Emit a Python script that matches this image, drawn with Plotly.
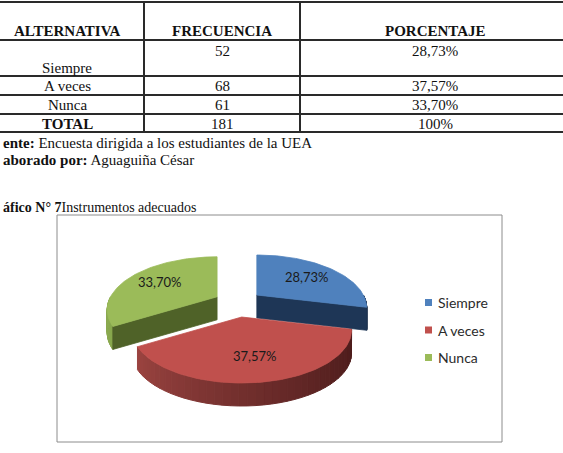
import numpy as np
import plotly.graph_objects as go

# ---------------- data ----------------
headers = ["ALTERNATIVA", "FRECUENCIA", "PORCENTAJE"]
categories = ["Siempre", "A veces", "Nunca"]
frequencies = [52, 68, 61]
percent_labels = ["28,73%", "37,57%", "33,70%"]
total_label = "TOTAL"
total_freq = 181
total_pct = "100%"
source_text = ("ente:", "Encuesta dirigida a los estudiantes de la UEA")
author_text = ("aborado por:", "Aguaguiña César")
chart_title = ("áfico N° 7", "Instrumentos adecuados")

# ---------------- styles ----------------
W, H = 563, 453
SERIF = "Liberation Serif"
SANS = "Lato"
top_colors = ["#4F81BD", "#C0504D", "#9BBB59"]
side_colors = ["#1E3656", "#8A3634", "#4F6228"]
wall_light = ["#2A4870", "#A64946", "#8CAB51"]
wall_dark = ["#1A2E4A", "#4C1C1B", "#6F8A3E"]

fig = go.Figure()

# ---------------- pie geometry (3D projected) ----------------
cx, cy = 238.0, 303.5      # pie centre on the page
RX, RY = 106.5, 49.8        # projected radii
PERSP = 0.245               # perspective factor
DEPTH = 23                  # thickness
EX, EY = 24, 13.7           # explosion distance

vals = np.array(frequencies, dtype=float)
fr = vals / vals.sum()
starts = np.concatenate([[0], np.cumsum(fr)[:-1]]) * 2 * np.pi
ends = np.cumsum(fr) * 2 * np.pi


def proj(r, th, ox, oy, down=0.0):
    d = 1 + PERSP * r * np.cos(th)
    x = cx + ox + RX * r * np.sin(th) / d
    y = cy + oy - RY * r * np.cos(th) / d + down
    return x, y


def poly(xs, ys, color, lw=0.8):
    fig.add_trace(go.Scatter(x=list(xs) + [xs[0]], y=list(ys) + [ys[0]],
                             mode="lines", fill="toself", fillcolor=color,
                             line=dict(color=color, width=lw),
                             hoverinfo="skip", showlegend=False))


def hex2rgb(h):
    h = h.lstrip("#")
    return np.array([int(h[i:i + 2], 16) for i in (0, 2, 4)], dtype=float)


def lerp(c1, c2, t):
    a, b = hex2rgb(c1), hex2rgb(c2)
    c = a + (b - a) * t
    return "rgb(%d,%d,%d)" % tuple(np.clip(c, 0, 255).round())


slices = []
for i in range(len(vals)):
    a0, a1 = starts[i], ends[i]
    mid = (a0 + a1) / 2
    ox, oy = EX * np.sin(mid), -EY * np.cos(mid)
    apex_y = cy + oy
    slices.append((apex_y, i, a0, a1, mid, ox, oy))

# back to front
for apex_y, i, a0, a1, mid, ox, oy in sorted(slices):
    # outer wall (front half only)
    w0, w1 = max(a0, np.pi / 2), min(a1, 3 * np.pi / 2)
    if w1 > w0:
        n = 40
        edges = np.linspace(w0, w1, n + 1)
        for k in range(n):
            th = np.linspace(edges[k], edges[k + 1], 4)
            xt, yt = proj(1, th, ox, oy)
            xb, yb = proj(1, th[::-1], ox, oy, DEPTH)
            t = (np.sin((edges[k] + edges[k + 1]) / 2) + 1) / 2
            col = lerp(wall_light[i], wall_dark[i], t ** 0.8)
            poly(np.concatenate([xt, xb]), np.concatenate([yt, yb]), col, 1.0)
    # radial faces facing the viewer
    for ang, normal in ((a0, a0 - np.pi / 2), (a1, a1 + np.pi / 2)):
        if np.cos(normal) < -1e-6:
            x0, y0 = proj(0, ang, ox, oy)
            x1, y1 = proj(1, ang, ox, oy)
            x2, y2 = proj(1, ang, ox, oy, DEPTH)
            x3, y3 = proj(0, ang, ox, oy, DEPTH)
            poly([x0, x1, x2, x3], [y0, y1, y2, y3], side_colors[i])
    # top face
    th = np.linspace(a0, a1, 80)
    xa, ya = proj(1, th, ox, oy)
    xc, yc = proj(0, 0, ox, oy)
    poly(np.concatenate([[xc], xa]), np.concatenate([[yc], ya]), top_colors[i])

annotations = []
# data labels
for apex_y, i, a0, a1, mid, ox, oy in slices:
    lx, ly = proj(0.66, mid, ox, oy)
    annotations.append(dict(x=lx, y=ly, text=percent_labels[i], showarrow=False,
                            font=dict(family=SANS, size=13, color="#1a1a1a"),
                            xanchor="center", yanchor="middle"))

# legend
leg_x, leg_y0, leg_dy = 425, 302.5, 27.5
shapes = []
for i, name in enumerate(categories):
    yy = leg_y0 + i * leg_dy
    shapes.append(dict(type="rect", xref="x", yref="y", x0=leg_x, x1=leg_x + 7,
                       y0=yy - 3.5, y1=yy + 3.5, fillcolor=top_colors[i],
                       line=dict(width=0)))
    annotations.append(dict(x=leg_x + 11, y=yy, text=name, showarrow=False,
                            font=dict(family=SANS, size=14, color="#2b2b2b"),
                            xanchor="left", yanchor="middle"))

# chart frame
shapes.append(dict(type="rect", xref="x", yref="y", x0=57, x1=502, y0=215, y1=442,
                   line=dict(color="#8c8c8c", width=1), fillcolor="rgba(0,0,0,0)",
                   layer="below"))

# ---------------- table ----------------
col_edges = [-10, 144, 300, 570]
col_centers = [(col_edges[k] + col_edges[k + 1]) / 2 for k in range(3)]
row_lines = [2, 40, 76, 95, 114, 132]
for yl in row_lines:
    shapes.append(dict(type="line", xref="x", yref="y", x0=0, x1=W, y0=yl, y1=yl,
                       line=dict(color="#2a2a2a", width=2)))
for xl in col_edges[1:3]:
    shapes.append(dict(type="line", xref="x", yref="y", x0=xl, x1=xl,
                       y0=row_lines[0], y1=row_lines[-1],
                       line=dict(color="#2a2a2a", width=2)))


def txt(x, y, s, size=15, anchor="center", bold=False):
    annotations.append(dict(x=x, y=y, text=("<b>%s</b>" % s) if bold else s,
                            showarrow=False, xanchor=anchor, yanchor="middle",
                            font=dict(family=SERIF, size=size, color="#111111")))


header_y = 31
for k, hd in enumerate(headers):
    txt(col_centers[k], header_y, hd, bold=True)

row_text_y = [(68, 51), (86, 86), (105, 105)]  # (label y, value y)
for i, name in enumerate(categories):
    ly, vy = row_text_y[i]
    txt(col_centers[0], ly, name)
    txt(col_centers[1], vy, str(frequencies[i]))
    txt(col_centers[2], vy, percent_labels[i])
txt(col_centers[0], 124, total_label, bold=True)
txt(col_centers[1], 124, str(total_freq))
txt(col_centers[2], 124, total_pct)

txt(0.5, 143, "<b>%s</b> %s" % source_text, anchor="left")
txt(0.5, 160, "<b>%s</b> %s" % author_text, anchor="left")
txt(0.5, 207, "<b>%s</b>%s" % chart_title, size=14, anchor="left")

fig.update_layout(
    width=W, height=H, margin=dict(l=0, r=0, t=0, b=0),
    paper_bgcolor="white", plot_bgcolor="white",
    xaxis=dict(range=[0, W], visible=False, fixedrange=True),
    yaxis=dict(range=[H, 0], visible=False, fixedrange=True),
    shapes=shapes, annotations=annotations, showlegend=False,
)
fig.write_html("out.html", config={"displayModeBar": False})
